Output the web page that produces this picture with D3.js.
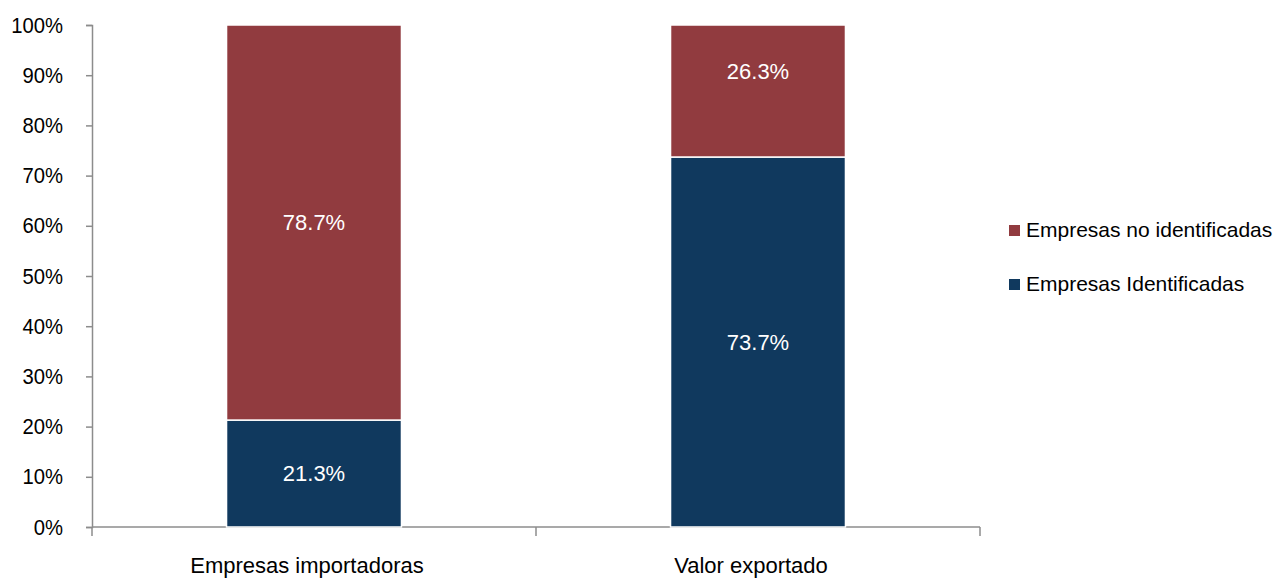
<!DOCTYPE html>
<html><head><meta charset="utf-8">
<script src="https://cdn.jsdelivr.net/npm/d3@7"></script>
<style>
body{margin:0;background:#fff;}
text{font-family:"Liberation Sans Narrow","Arial Narrow","Liberation Sans",sans-serif;}
</style></head>
<body><svg id="c" width="1281" height="580"></svg>
<script>
const categories = ["Empresas importadoras", "Valor exportado"];
const identificadas = [21.3, 73.7];
const noIdentificadas = [78.7, 26.3];
const seriesNames = ["Empresas Identificadas", "Empresas no identificadas"];
const yTicks = [0,10,20,30,40,50,60,70,80,90,100];
const colors = ["#10395E", "#913B3F"];

(function(){
const svg = d3.select("#c");
const mLeft = 92, mRight = 980, mTop = 25, mBottom = 527;
const x = d3.scaleBand().domain(categories).range([mLeft, mRight]).paddingInner(0.606).paddingOuter(0.303);
const y = d3.scaleLinear().domain([0,100]).range([mBottom, mTop]);

function squeeze(sel, f){
  sel.each(function(){
    const w = this.getComputedTextLength();
    d3.select(this).attr("textLength", w*f).attr("lengthAdjust","spacingAndGlyphs");
  });
}

const data = categories.map((c,i)=>({cat:c, a:identificadas[i], b:noIdentificadas[i]}));
const stack = d3.stack().keys(["a","b"])(data);

const yAxis = svg.append("g").attr("transform",`translate(${mLeft},0)`)
  .call(d3.axisLeft(y).tickValues(yTicks).tickFormat(d=>d+"%").tickSize(6).tickPadding(23));
yAxis.select(".domain").attr("stroke","#8c8c8c").attr("stroke-width",1.5);
yAxis.selectAll(".tick line").attr("stroke","#8c8c8c").attr("stroke-width",1.5);
yAxis.selectAll(".tick text").attr("font-size",22).attr("fill","#000").attr("text-anchor","end")
  .attr("font-family",'"Liberation Sans Narrow","Arial Narrow","Liberation Sans",sans-serif');
squeeze(yAxis.selectAll(".tick text"), 0.92);

const xAxisG = svg.append("g").attr("transform",`translate(0,${mBottom})`);
xAxisG.append("line").attr("x1",mLeft).attr("x2",mRight).attr("stroke","#8c8c8c").attr("stroke-width",1.5);
const bounds = [mLeft, (mLeft+mRight)/2, mRight];
xAxisG.selectAll("line.t").data(bounds).enter().append("line").attr("class","t")
  .attr("x1",d=>d).attr("x2",d=>d).attr("y1",0).attr("y2",9).attr("stroke","#8c8c8c").attr("stroke-width",1.5);
xAxisG.selectAll("text").data(categories).enter().append("text")
  .attr("x",d=>x(d)+x.bandwidth()/2 - 7).attr("y",46).attr("text-anchor","middle")
  .attr("font-size",22).attr("fill","#000").text(d=>d);

stack.forEach((s,si)=>{
  svg.append("g").selectAll("rect").data(s).enter().append("rect")
    .attr("x",d=>x(d.data.cat)).attr("width",x.bandwidth())
    .attr("y",d=>y(d[1])).attr("height",d=>y(d[0])-y(d[1]))
    .attr("fill",colors[si]).attr("stroke","#fff").attr("stroke-width",1.5);
  svg.append("g").selectAll("text").data(s).enter().append("text")
    .attr("x",d=>x(d.data.cat)+x.bandwidth()/2)
    .attr("y",d=>{
      const mid=(y(d[0])+y(d[1]))/2;
      return (si===1 && d[1]-d[0] < 40) ? mid-20 : mid;
    })
    .attr("dy","0.35em").attr("text-anchor","middle").attr("font-size",22).attr("fill","#fff")
    .text(d=>(d[1]-d[0]).toFixed(1)+"%");
});

const legend = [{name:seriesNames[1], color:colors[1], y:230},{name:seriesNames[0], color:colors[0], y:284}];
const lg = svg.append("g");
lg.selectAll("rect").data(legend).enter().append("rect")
  .attr("x",1009).attr("y",d=>d.y-5).attr("width",11).attr("height",11).attr("fill",d=>d.color);
lg.selectAll("text").data(legend).enter().append("text")
  .attr("x",1026).attr("y",d=>d.y).attr("dy","0.35em").attr("font-size",21).attr("fill","#000").text(d=>d.name);
})();
</script></body></html>
